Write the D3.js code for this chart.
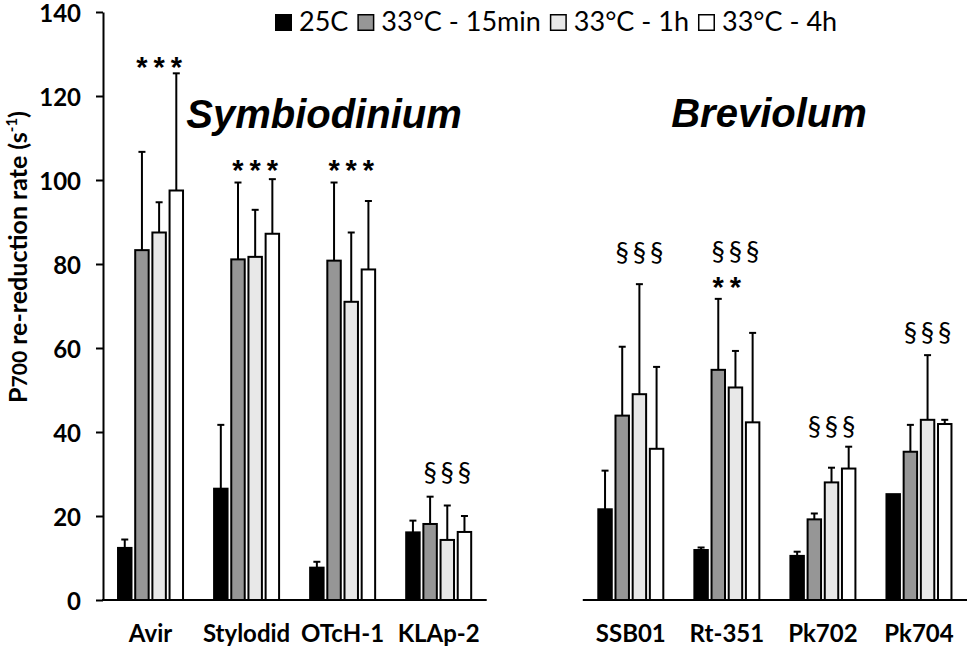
<!DOCTYPE html>
<html>
<head>
<meta charset="utf-8">
<script src="https://cdn.jsdelivr.net/npm/d3@7"></script>
<style>
  html, body { margin: 0; padding: 0; background: #fff; }
  svg { display: block; }
</style>
</head>
<body>
<svg id="chart" width="970" height="652"></svg>
<script>
// ---------------- DATA ----------------
const categories = ["Avir", "Stylodid", "OTcH-1", "KLAp-2", "SSB01", "Rt-351", "Pk702", "Pk704"];
const genus = ["Symbiodinium", "Symbiodinium", "Symbiodinium", "Symbiodinium",
               "Breviolum", "Breviolum", "Breviolum", "Breviolum"];
const genusNames = ["Symbiodinium", "Breviolum"];
const series = ["25C", "33°C - 15min", "33°C - 1h", "33°C - 4h"];

const val25C  = [12.4, 26.5,  7.7, 16.1, 21.6, 11.9, 10.5, 25.2];
const val15m  = [83.3, 81.1, 80.8, 18.1, 43.9, 54.8, 19.2, 35.3];
const val1h   = [87.5, 81.7, 71.0, 14.3, 49.0, 50.6, 28.0, 42.9];
const val4h   = [97.5, 87.2, 78.7, 16.2, 36.0, 42.3, 31.3, 41.9];

const err25C  = [ 2.0, 15.2,  1.4,  2.8,  9.2,  0.6,  1.0,  0.0];
const err15m  = [23.4, 18.3, 18.6,  6.5, 16.4, 16.9,  1.4,  6.4];
const err1h   = [ 7.2, 11.2, 16.5,  8.2, 26.2,  8.7,  3.5, 15.4];
const err4h   = [27.9, 13.0, 16.3,  3.8, 19.5, 21.3,  5.2,  1.0];

// significance marks (drawn over the three heat-treated bars)
const starCount  = [3, 3, 3, 0, 0, 2, 0, 0];
const starLevel  = [128.6, 104.0, 104.0, null, null, 76.2, null, null];
const sectCount  = [0, 0, 0, 3, 3, 3, 3, 3];
const sectLevel  = [null, null, null, 30.2, 82.6, 82.9, 41.3, 63.6];

const yTicks = [0, 20, 40, 60, 80, 100, 120, 140];

// ---------------- LAYOUT ----------------
const svg = d3.select("#chart");
const fills = ["#000000", "#969696", "#e8e8e8", "#ffffff"];
const values = [val25C, val15m, val1h, val4h];
const errors = [err25C, err15m, err1h, err4h];

const y = d3.scaleLinear().domain([0, 140]).range([600, 12]);

const bandDomain = [...categories.slice(0, 4), "__gap__", ...categories.slice(4)];
const x0 = d3.scaleBand().domain(bandDomain).range([102.5, 967]).paddingInner(0).paddingOuter(0);
const groupW = 67;
const groupOff = (x0.bandwidth() - groupW) / 2;
const x1 = d3.scaleBand().domain(series).range([0, groupW]).paddingInner(0.1).paddingOuter(0);
const barCx = (ci, si) => x0(categories[ci]) + groupOff + x1(series[si]) + x1.bandwidth() / 2;

const labelFont = "Lato, 'Open Sans', sans-serif";

// ---------------- Y AXIS ----------------
const yAxis = d3.axisLeft(y).tickValues(yTicks).tickSize(7).tickSizeOuter(0).tickPadding(15);
const gy = svg.append("g").attr("transform", "translate(103,0)").call(yAxis);
gy.select(".domain").attr("stroke", "#000").attr("stroke-width", 2);
gy.selectAll(".tick line").attr("stroke", "#000").attr("stroke-width", 2);
gy.selectAll(".tick text")
  .attr("font-family", labelFont).attr("font-weight", "bold")
  .attr("font-size", 24).attr("fill", "#000").attr("dy", "0.4em");

// y title
const yt = svg.append("text")
  .attr("transform", "translate(27,257) rotate(-90)")
  .attr("text-anchor", "middle")
  .attr("font-family", labelFont).attr("font-weight", "bold")
  .attr("font-size", 25).attr("fill", "#000");
yt.append("tspan").text("P");
yt.append("tspan").attr("font-size", 21).text("700");
yt.append("tspan").text(" re-reduction rate (s");
yt.append("tspan").attr("font-size", 15).attr("dy", -10).text("-1");
yt.append("tspan").attr("dy", 10).text(")");

// ---------------- BARS ----------------
const barData = [];
categories.forEach((c, ci) => {
  series.forEach((s, si) => {
    barData.push({ ci, si, v: values[si][ci], e: errors[si][ci] });
  });
});

svg.append("g").selectAll("rect").data(barData).join("rect")
  .attr("x", d => x0(categories[d.ci]) + groupOff + x1(series[d.si]) + 1)
  .attr("width", x1.bandwidth() - 2)
  .attr("y", d => y(d.v))
  .attr("height", d => y(0) - y(d.v))
  .attr("fill", d => fills[d.si])
  .attr("stroke", "#000").attr("stroke-width", 2);

// error bars (upper only)
const eb = svg.append("g").attr("stroke", "#000").attr("stroke-width", 2);
barData.filter(d => d.e > 0).forEach(d => {
  const cx = barCx(d.ci, d.si);
  eb.append("line").attr("x1", cx).attr("x2", cx).attr("y1", y(d.v)).attr("y2", y(d.v + d.e));
  eb.append("line").attr("x1", cx - 3.5).attr("x2", cx + 3.5).attr("y1", y(d.v + d.e)).attr("y2", y(d.v + d.e));
});

// ---------------- BASELINES ----------------
genusNames.forEach(g => {
  const cats = categories.filter((c, i) => genus[i] === g);
  svg.append("line")
    .attr("x1", x0(cats[0]) - (g === genusNames[0] ? 0.5 : 0))
    .attr("x2", x0(cats[cats.length - 1]) + x0.bandwidth())
    .attr("y1", y(0)).attr("y2", y(0))
    .attr("stroke", "#000").attr("stroke-width", 2);
});

// category labels
svg.append("g").selectAll("text").data(categories).join("text")
  .attr("x", d => x0(d) + x0.bandwidth() / 2)
  .attr("y", 642)
  .attr("text-anchor", "middle")
  .attr("font-family", labelFont).attr("font-weight", "bold")
  .attr("font-size", 24).attr("fill", "#000")
  .text(d => d);

// ---------------- SIGNIFICANCE MARKS ----------------
const marks = svg.append("g");
categories.forEach((c, ci) => {
  for (let k = 0; k < starCount[ci]; k++) {
    marks.append("text")
      .attr("x", barCx(ci, k + 1))
      .attr("y", y(starLevel[ci]) + 17)
      .attr("text-anchor", "middle")
      .attr("font-family", "'Liberation Sans', Arial, sans-serif")
      .attr("font-weight", "bold").attr("font-size", 29)
      .text("*");
  }
  for (let k = 0; k < sectCount[ci]; k++) {
    marks.append("text")
      .attr("x", barCx(ci, k + 1))
      .attr("y", y(sectLevel[ci]) + 9)
      .attr("text-anchor", "middle")
      .attr("font-family", labelFont)
      .attr("font-size", 27)
      .text("§");
  }
});

// ---------------- GENUS TITLES ----------------
const titlePos = { "Symbiodinium": [324, 128], "Breviolum": [769, 127] };
genusNames.forEach(g => {
  svg.append("text")
    .attr("x", titlePos[g][0]).attr("y", titlePos[g][1])
    .attr("text-anchor", "middle")
    .attr("font-family", "'Liberation Sans', Arial, sans-serif")
    .attr("font-weight", "bold").attr("font-style", "italic")
    .attr("font-size", 40).attr("fill", "#000")
    .text(g);
});

// ---------------- LEGEND ----------------
const lg = svg.append("g");
let lx = 275;
const sq = 17;
series.forEach((s, si) => {
  lg.append("rect").attr("x", lx + 0.75).attr("y", 14.75).attr("width", sq - 1.5).attr("height", sq - 1.5)
    .attr("fill", fills[si]).attr("stroke", "#000").attr("stroke-width", 1.5);
  const t = lg.append("text").attr("x", lx + sq + 7).attr("y", 31)
    .attr("font-family", labelFont).attr("font-size", 27).attr("fill", "#000").text(s);
  lx = lx + sq + 7 + t.node().getComputedTextLength() + 9;
});
</script>
</body>
</html>
